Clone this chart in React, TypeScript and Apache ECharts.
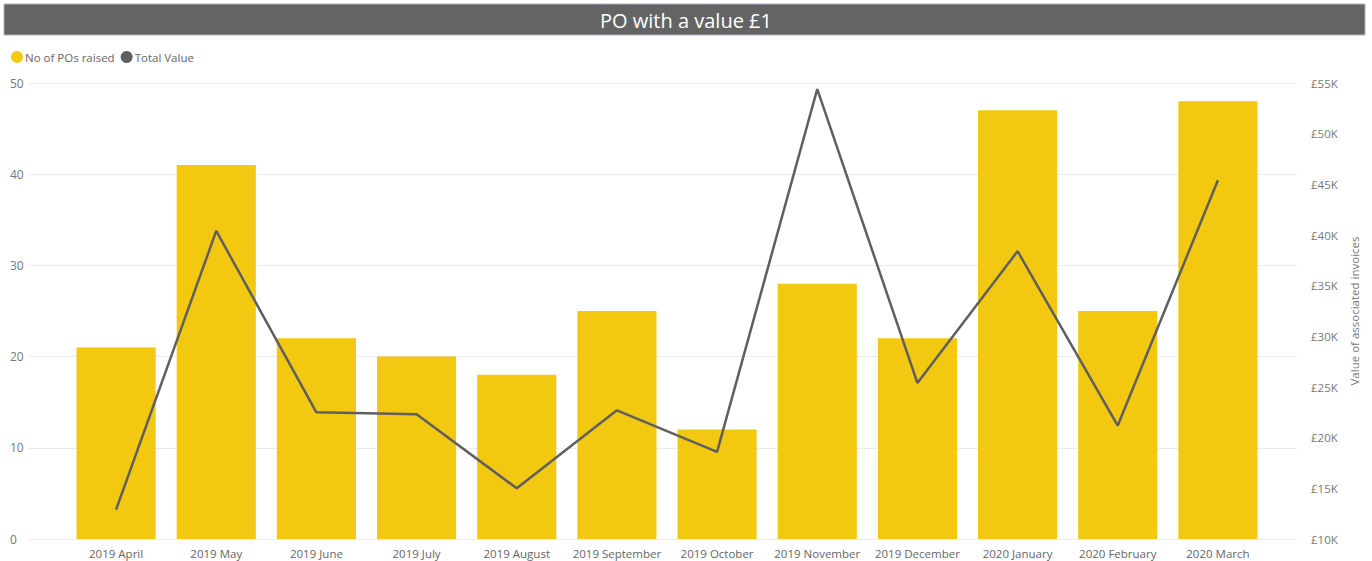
import React, { useEffect, useRef } from "react";
import * as echarts from "echarts";

const categories = [
  "2019 April", "2019 May", "2019 June", "2019 July", "2019 August", "2019 September",
  "2019 October", "2019 November", "2019 December", "2020 January", "2020 February", "2020 March",
];
const posRaised = [21, 41, 22, 20, 18, 25, 12, 28, 22, 47, 25, 48];
const totalValue = [12900, 40400, 22500, 22300, 15000, 22700, 18600, 54400, 25400, 38400, 21200, 45400];
const leftTicks = { min: 0, max: 50, interval: 10 };
const rightTicks = { min: 10000, max: 55000, interval: 5000 };

const FONT = "'Open Sans', 'Noto Sans', sans-serif";

export default function App() {
  const ref = useRef<HTMLDivElement>(null);
  useEffect(() => {
    if (!ref.current) return;
    const chart = echarts.init(ref.current, null, { renderer: "svg" });
    chart.setOption({
      animation: false,
      backgroundColor: "#ffffff",
      textStyle: { fontFamily: FONT },
      graphic: [
        { type: "rect", shape: { x: 4, y: 4, width: 1361, height: 31 }, style: { fill: "#646464", stroke: "#a9b4c8", lineWidth: 1 } },
        {
          type: "text", x: 686, y: 20,
          style: { text: "PO with a value £1", fill: "#ffffff", font: `20px ${FONT}`, align: "center", verticalAlign: "middle" },
        },
      ],
      legend: {
        left: 6, top: 46, icon: "circle", itemWidth: 12, itemHeight: 12, itemGap: 6,
        textStyle: { color: "#666666", fontSize: 11.5, fontFamily: FONT, padding: [0, 0, 0, -3] },
        data: ["No of POs raised", "Total Value"],
      },
      grid: [
        { left: 66, right: 104, top: 83, bottom: 22, containLabel: false },
        { left: 28, right: 75, top: 83, bottom: 22, containLabel: false },
      ],
      xAxis: [
        {
          type: "category", data: categories, gridIndex: 0,
          axisLine: { show: false }, axisTick: { show: false },
          axisLabel: { color: "#666666", fontSize: 11.5, margin: 8, fontFamily: FONT, interval: 0 },
        },
        { type: "value", gridIndex: 1, min: 0, max: 1, show: false },
      ],
      yAxis: [
        {
          type: "value", gridIndex: 0, ...leftTicks, position: "left",
          axisLine: { show: false }, axisTick: { show: false }, splitLine: { show: false },
          axisLabel: { color: "#777777", fontSize: 12, margin: 56, align: "left", fontFamily: FONT },
        },
        {
          type: "value", gridIndex: 0, ...rightTicks, position: "right",
          axisLine: { show: false }, axisTick: { show: false }, splitLine: { show: false },
          name: "Value of associated invoices", nameLocation: "middle", nameGap: 74, nameRotate: 90,
          nameTextStyle: { color: "#777777", fontSize: 11.5, fontFamily: FONT },
          axisLabel: {
            color: "#777777", fontSize: 11.5, margin: 43, fontFamily: FONT,
            formatter: (v: number) => `£${v / 1000}K`,
          },
        },
        {
          type: "value", gridIndex: 1, ...leftTicks,
          axisLine: { show: false }, axisTick: { show: false }, axisLabel: { show: false },
          splitLine: { show: true, lineStyle: { color: "#ebebeb", width: 1 } },
        },
      ],
      series: [
        {
          name: "No of POs raised", type: "bar", data: posRaised, xAxisIndex: 0, yAxisIndex: 0,
          itemStyle: { color: "#f2c811" }, barCategoryGap: "21%", z: 3,
        },
        {
          name: "Total Value", type: "line", data: totalValue, xAxisIndex: 0, yAxisIndex: 1,
          itemStyle: { color: "#5f5f5f" }, lineStyle: { color: "#5f5f5f", width: 2.5 },
          showSymbol: false, symbol: "circle", z: 4,
        },
      ],
    });
    return () => chart.dispose();
  }, []);
  return (
    <div
      ref={ref}
      style={{ position: "absolute", left: 0, top: 0, width: 1372, height: 561 }}
    />
  );
}
